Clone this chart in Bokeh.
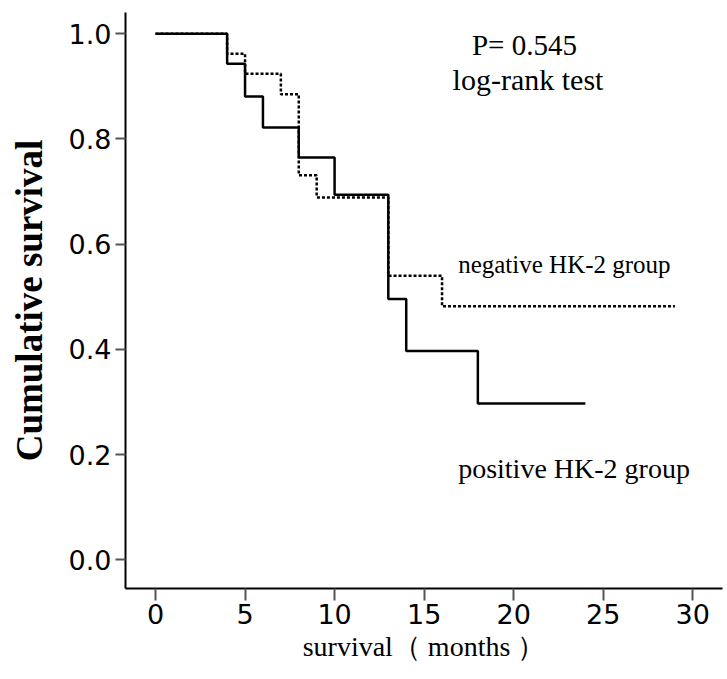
from bokeh.plotting import figure
from bokeh.models import Range1d, Label, NumeralTickFormatter, FixedTicker
from bokeh.embed import file_html
from bokeh.resources import INLINE

# Kaplan-Meier step data
pos_months = [0, 4, 5, 6, 8, 10, 13, 14, 18, 24]
pos_surv = [1.0, 0.943, 0.881, 0.822, 0.765, 0.694, 0.496, 0.397, 0.297, 0.297]
neg_months = [0, 4, 5, 7, 8, 9, 13, 16, 29]
neg_surv = [1.0, 0.962, 0.924, 0.885, 0.731, 0.689, 0.540, 0.482, 0.482]

x_ticks = [0, 5, 10, 15, 20, 25, 30]
y_ticks = [0.0, 0.2, 0.4, 0.6, 0.8, 1.0]

x_title = "survival\uff08 months \uff09"
y_title = "Cumulative survival"
p_text = "P= 0.545"
test_text = "log-rank test"
neg_label = "negative HK-2 group"
pos_label = "positive HK-2 group"

p = figure(width=727, height=679, output_backend="svg", toolbar_location=None,
           x_range=Range1d(-1.675, 31.66), y_range=Range1d(-0.0546, 1.0405),
           min_border_left=125, min_border_top=12, min_border_right=5,
           min_border_bottom=91)
p.outline_line_color = None
p.grid.visible = False
p.background_fill_color = "white"

p.step(neg_months, neg_surv, mode="after", line_color="black",
       line_width=2.5, line_dash="3 2")
p.step(pos_months, pos_surv, mode="after", line_color="black", line_width=2.5)

serif = "Liberation Serif"
sans = "DejaVu Sans"

for ax in (p.xaxis[0], p.yaxis[0]):
    ax.axis_line_color = "black"
    ax.axis_line_width = 2
    ax.major_tick_line_color = "#555555"
    ax.major_tick_line_width = 2
    ax.major_tick_in = 0
    ax.minor_tick_line_color = None
    ax.major_label_text_font = sans
    ax.major_label_text_font_size = "27px"
    ax.major_label_text_color = "black"
    ax.axis_label_text_font = serif
    ax.axis_label_text_color = "black"

p.xaxis.ticker = FixedTicker(ticks=x_ticks)
p.yaxis.ticker = FixedTicker(ticks=y_ticks)
p.yaxis.formatter = NumeralTickFormatter(format="0.0")
p.xaxis.major_tick_out = 12
p.yaxis.major_tick_out = 10
p.xaxis.major_label_standoff = 3
p.yaxis.major_label_standoff = 4

p.xaxis.axis_label = x_title
p.xaxis.axis_label_text_font_size = "28px"
p.xaxis.axis_label_text_font_style = "normal"
p.xaxis.axis_label_standoff = 4

p.yaxis.axis_label = y_title
p.yaxis.axis_label_text_font_size = "37px"
p.yaxis.axis_label_text_font_style = "bold"
p.yaxis.axis_label_standoff = 16

def add_label(x, y, text, size, align="left"):
    p.add_layout(Label(x=x, y=y, text=text, text_font=serif,
                       text_font_size=size, text_color="black",
                       text_align=align, text_baseline="alphabetic"))

add_label(20.6, 0.978, p_text, "29px", "center")
add_label(20.8, 0.913, test_text, "30px", "center")
add_label(16.9, 0.562, neg_label, "25px")
add_label(16.9, 0.173, pos_label, "28px")

open("out.html", "w").write(file_html(p, INLINE))
